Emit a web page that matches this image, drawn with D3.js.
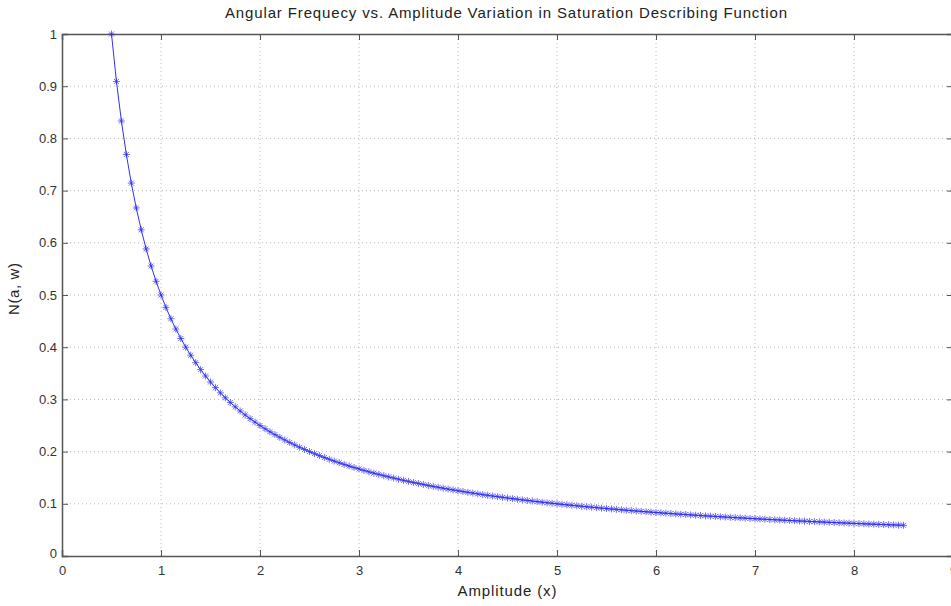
<!DOCTYPE html>
<html lang="en">
<head>
<meta charset="utf-8" />
<title>Saturation describing function</title>
<script src="https://d3js.org/d3.v7.min.js"></script>
<style>
	body { margin: 0; background: #fff; }
	svg { display: block; font-family: "Liberation Sans", Arial, sans-serif; }
	.grid line { stroke: #b8b8b8; stroke-dasharray: 1,3; }
	.tick text { fill: #333; }
</style>
</head>
<body>
<svg width="951" height="606"></svg>
<script>

//	amplitude samples (x) and describing function value N(a, w)
var amplitude = [
	0.50,0.55,0.60,0.65,0.70,0.75,0.80,0.85,0.90,0.95,
	1.00,1.05,1.10,1.15,1.20,1.25,1.30,1.35,1.40,1.45,
	1.50,1.55,1.60,1.65,1.70,1.75,1.80,1.85,1.90,1.95,
	2.00,2.05,2.10,2.15,2.20,2.25,2.30,2.35,2.40,2.45,
	2.50,2.55,2.60,2.65,2.70,2.75,2.80,2.85,2.90,2.95,
	3.00,3.05,3.10,3.15,3.20,3.25,3.30,3.35,3.40,3.45,
	3.50,3.55,3.60,3.65,3.70,3.75,3.80,3.85,3.90,3.95,
	4.00,4.05,4.10,4.15,4.20,4.25,4.30,4.35,4.40,4.45,
	4.50,4.55,4.60,4.65,4.70,4.75,4.80,4.85,4.90,4.95,
	5.00,5.05,5.10,5.15,5.20,5.25,5.30,5.35,5.40,5.45,
	5.50,5.55,5.60,5.65,5.70,5.75,5.80,5.85,5.90,5.95,
	6.00,6.05,6.10,6.15,6.20,6.25,6.30,6.35,6.40,6.45,
	6.50,6.55,6.60,6.65,6.70,6.75,6.80,6.85,6.90,6.95,
	7.00,7.05,7.10,7.15,7.20,7.25,7.30,7.35,7.40,7.45,
	7.50,7.55,7.60,7.65,7.70,7.75,7.80,7.85,7.90,7.95,
	8.00,8.05,8.10,8.15,8.20,8.25,8.30,8.35,8.40,8.45,
	8.50
];

var gain = [
	1.0000,0.9091,0.8333,0.7692,0.7143,0.6667,0.6250,0.5882,0.5556,0.5263,
	0.5000,0.4762,0.4545,0.4348,0.4167,0.4000,0.3846,0.3704,0.3571,0.3448,
	0.3333,0.3226,0.3125,0.3030,0.2941,0.2857,0.2778,0.2703,0.2632,0.2564,
	0.2500,0.2439,0.2381,0.2326,0.2273,0.2222,0.2174,0.2128,0.2083,0.2041,
	0.2000,0.1961,0.1923,0.1887,0.1852,0.1818,0.1786,0.1754,0.1724,0.1695,
	0.1667,0.1639,0.1613,0.1587,0.1563,0.1538,0.1515,0.1493,0.1471,0.1449,
	0.1429,0.1408,0.1389,0.1370,0.1351,0.1333,0.1316,0.1299,0.1282,0.1266,
	0.1250,0.1235,0.1220,0.1205,0.1190,0.1176,0.1163,0.1149,0.1136,0.1124,
	0.1111,0.1099,0.1087,0.1075,0.1064,0.1053,0.1042,0.1031,0.1020,0.1010,
	0.1000,0.0990,0.0980,0.0971,0.0962,0.0952,0.0943,0.0935,0.0926,0.0917,
	0.0909,0.0901,0.0893,0.0885,0.0877,0.0870,0.0862,0.0855,0.0847,0.0840,
	0.0833,0.0826,0.0820,0.0813,0.0806,0.0800,0.0794,0.0787,0.0781,0.0775,
	0.0769,0.0763,0.0758,0.0752,0.0746,0.0741,0.0735,0.0730,0.0725,0.0719,
	0.0714,0.0709,0.0704,0.0699,0.0694,0.0690,0.0685,0.0680,0.0676,0.0671,
	0.0667,0.0662,0.0658,0.0654,0.0649,0.0645,0.0641,0.0637,0.0633,0.0629,
	0.0625,0.0621,0.0617,0.0613,0.0610,0.0606,0.0602,0.0599,0.0595,0.0592,
	0.0588
];

var xTicks = [0,1,2,3,4,5,6,7,8,9];
var yTicks = [0,0.1,0.2,0.3,0.4,0.5,0.6,0.7,0.8,0.9,1];

var titleText = "Angular Frequecy vs. Amplitude Variation in Saturation Describing Function";
var xLabel = "Amplitude (x)";
var yLabel = "N(a, w)";

//	svg and plot box
var svg = d3.select("svg"),
	margin = {left: 62, top: 34},
	width = 891,
	height = 522;

var x = d3.scaleLinear().domain([0, 9]).range([margin.left, margin.left + width]);
var y = d3.scaleLinear().domain([0, 1]).range([margin.top + height, margin.top]);

//	grid
var grid = svg.append("g").attr("class", "grid");
grid.selectAll(".gx").data(xTicks.slice(1, -1)).enter().append("line")
	.attr("x1", d => x(d)).attr("x2", d => x(d))
	.attr("y1", y(0)).attr("y2", y(1));
grid.selectAll(".gy").data(yTicks.slice(1, -1)).enter().append("line")
	.attr("x1", x(0)).attr("x2", x(9))
	.attr("y1", d => y(d)).attr("y2", d => y(d));

//	axes, ticks pointing inward like matlab
var axisColor = "#555";
var axBottom = svg.append("g")
	.attr("transform", "translate(0," + y(0) + ")")
	.call(d3.axisBottom(x).tickValues(xTicks).tickSize(-6).tickPadding(10).tickFormat(d3.format("d")));
var axTop = svg.append("g")
	.attr("transform", "translate(0," + y(1) + ")")
	.call(d3.axisTop(x).tickValues(xTicks).tickSize(-6).tickFormat(""));
var axLeft = svg.append("g")
	.attr("transform", "translate(" + x(0) + ",0)")
	.call(d3.axisLeft(y).tickValues(yTicks).tickSize(-6).tickPadding(5).tickFormat(d => d === 0 || d === 1 ? d : d3.format(".1f")(d)));
var axRight = svg.append("g")
	.attr("transform", "translate(" + x(9) + ",0)")
	.call(d3.axisRight(y).tickValues(yTicks).tickSize(-6).tickFormat(""));

[axBottom, axTop, axLeft, axRight].forEach(function(g) {
	g.attr("font-size", 13).attr("font-family", null);
	g.select(".domain").attr("stroke", axisColor).attr("stroke-width", 1.5);
	g.selectAll(".tick line").attr("stroke", axisColor);
});
//	the "0" label on y sits slightly above the corner, as in the source
axLeft.selectAll(".tick").filter(d => d === 0).select("text").attr("dy", "0.1em");

//	curve
var pts = amplitude.map((a, i) => [a, gain[i]]);
var lineColor = "#3030f0";

svg.append("path")
	.datum(pts)
	.attr("fill", "none")
	.attr("stroke", lineColor)
	.attr("stroke-width", 1)
	.attr("d", d3.line().x(d => x(d[0])).y(d => y(d[1])));

//	asterisk markers
var star = "M-3.5,0H3.5M0,-3.5V3.5M-2.5,-2.5L2.5,2.5M-2.5,2.5L2.5,-2.5";
svg.append("g").selectAll("path").data(pts).enter().append("path")
	.attr("transform", d => "translate(" + x(d[0]) + "," + y(d[1]) + ")")
	.attr("d", star)
	.attr("fill", "none")
	.attr("stroke", lineColor)
	.attr("stroke-opacity", 0.7)
	.attr("stroke-width", 1);

//	labels
svg.append("text")
	.attr("x", 506).attr("y", 18)
	.attr("text-anchor", "middle")
	.attr("font-size", 15).attr("fill", "#222")
	.attr("textLength", 562).attr("lengthAdjust", "spacing")
	.text(titleText);

svg.append("text")
	.attr("x", 507).attr("y", 596)
	.attr("text-anchor", "middle")
	.attr("font-size", 15).attr("fill", "#222")
	.attr("textLength", 99).attr("lengthAdjust", "spacing")
	.text(xLabel);

svg.append("text")
	.attr("transform", "translate(19,289) rotate(-90)")
	.attr("text-anchor", "middle")
	.attr("font-size", 15).attr("fill", "#222")
	.attr("textLength", 52).attr("lengthAdjust", "spacing")
	.text(yLabel);

</script>
</body>
</html>
